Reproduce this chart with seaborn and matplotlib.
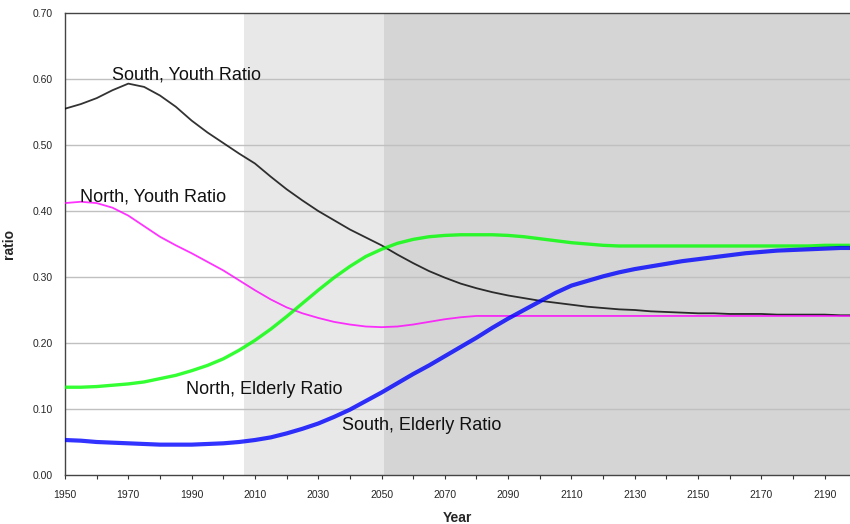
import numpy as np
import pandas as pd
import matplotlib
matplotlib.use("Agg")
import matplotlib.pyplot as plt
import seaborn as sns
from matplotlib.ticker import FixedLocator, FormatStrFormatter, MultipleLocator

years = list(range(1950, 2200, 5)) + [2198]

south_youth = [0.555, 0.562, 0.571, 0.583, 0.593, 0.588, 0.575, 0.558, 0.537, 0.519,
               0.503, 0.487, 0.472, 0.452, 0.433, 0.416, 0.400, 0.386, 0.372, 0.360,
               0.348, 0.334, 0.321, 0.309, 0.299, 0.290, 0.283, 0.277, 0.272, 0.268,
               0.264, 0.261, 0.258, 0.255, 0.253, 0.251, 0.250, 0.248, 0.247, 0.246,
               0.245, 0.245, 0.244, 0.244, 0.244, 0.243, 0.243, 0.243, 0.243, 0.242,
               0.242]
north_youth = [0.412, 0.414, 0.412, 0.405, 0.393, 0.377, 0.361, 0.348, 0.336, 0.323,
               0.310, 0.295, 0.280, 0.266, 0.254, 0.245, 0.238, 0.232, 0.228, 0.225,
               0.224, 0.225, 0.228, 0.232, 0.236, 0.239, 0.241, 0.241, 0.241, 0.241,
               0.241, 0.241, 0.241, 0.241, 0.241, 0.241, 0.241, 0.241, 0.241, 0.241,
               0.241, 0.241, 0.241, 0.241, 0.241, 0.241, 0.241, 0.241, 0.241, 0.241,
               0.241]
north_elderly = [0.133, 0.133, 0.134, 0.136, 0.138, 0.141, 0.146, 0.151, 0.158, 0.166,
                 0.176, 0.189, 0.204, 0.221, 0.240, 0.260, 0.280, 0.299, 0.316, 0.331,
                 0.342, 0.351, 0.357, 0.361, 0.363, 0.364, 0.364, 0.364, 0.363, 0.361,
                 0.358, 0.355, 0.352, 0.350, 0.348, 0.347, 0.347, 0.347, 0.347, 0.347,
                 0.347, 0.347, 0.347, 0.347, 0.347, 0.347, 0.347, 0.347, 0.348, 0.348,
                 0.348]
south_elderly = [0.053, 0.052, 0.050, 0.049, 0.048, 0.047, 0.046, 0.046, 0.046, 0.047,
                 0.048, 0.050, 0.053, 0.057, 0.063, 0.070, 0.078, 0.088, 0.099, 0.112,
                 0.125, 0.139, 0.153, 0.166, 0.180, 0.194, 0.208, 0.223, 0.237, 0.250,
                 0.263, 0.276, 0.287, 0.294, 0.301, 0.307, 0.312, 0.316, 0.320, 0.324,
                 0.327, 0.330, 0.333, 0.336, 0.338, 0.340, 0.341, 0.342, 0.343, 0.344,
                 0.344]

series_names = ["South, Youth Ratio", "North, Youth Ratio", "North, Elderly Ratio", "South, Elderly Ratio"]
series_values = [south_youth, north_youth, north_elderly, south_elderly]
series_colors = ["#000000", "#ff00ff", "#00ff00", "#0000ff"]
series_widths = [1.3, 1.3, 2.4, 3.0]

label_pos = {  # (year, value) anchor for inline labels
    "South, Youth Ratio": (1964.8, 0.600),
    "North, Youth Ratio": (1954.7, 0.414),
    "North, Elderly Ratio": (1988.2, 0.123),
    "South, Elderly Ratio": (2037.4, 0.068),
}

x_ticks = list(range(1950, 2200, 20))
shade_bounds = [1950, 2006.6, 2050.7, 2198]
shade_colors = ["#ffffff", "#e8e8e8", "#d5d5d5"]

for v in series_values:
    assert len(v) == len(years)

df = pd.DataFrame({
    "Year": np.tile(years, len(series_names)),
    "ratio": np.concatenate(series_values),
    "series": np.repeat(series_names, len(years)),
})

sns.set_style("white")
plt.rcParams["font.family"] = ["Liberation Sans", "DejaVu Sans"]

fig = plt.figure(figsize=(8.5, 5.24), dpi=100)
ax = fig.add_axes([65 / 850, 49 / 524, 785 / 850, 462 / 524])

for i in range(len(shade_colors)):
    ax.axvspan(shade_bounds[i], shade_bounds[i + 1], color=shade_colors[i], zorder=0, lw=0)

for y in np.arange(0.1, 0.7, 0.1):
    ax.axhline(y, color="#c0c0c0", lw=1.0, zorder=1)

for name, vals, col, lw in zip(series_names, series_values, series_colors, series_widths):
    sub = df[df["series"] == name]
    sns.lineplot(data=sub, x="Year", y="ratio", color=col, lw=lw, alpha=0.8, ax=ax, zorder=3,
                 legend=False)

for name, (x, y) in label_pos.items():
    ax.text(x, y, name, fontsize=13, color="#111111", zorder=4)

ax.set_xlim(1950, 2198)
ax.set_ylim(0, 0.70)
ax.xaxis.set_major_locator(FixedLocator(x_ticks))
ax.xaxis.set_minor_locator(FixedLocator([t + 10 for t in x_ticks]))
ax.yaxis.set_major_locator(MultipleLocator(0.1))
ax.yaxis.set_major_formatter(FormatStrFormatter("%.2f"))
ax.tick_params(axis="x", which="both", direction="out", length=3, width=0.8, color="#333333",
               labelsize=7.5, pad=8, bottom=True)
ax.tick_params(axis="y", which="both", length=0, labelsize=7.5, pad=9)

for side in ["left", "bottom", "top"]:
    ax.spines[side].set_color("#444444")
    ax.spines[side].set_linewidth(1.0)
ax.spines["right"].set_visible(False)

ax.set_xlabel("Year", fontsize=10, fontweight="bold", labelpad=8)
ax.set_ylabel("ratio", fontsize=10, fontweight="bold", labelpad=12)

fig.savefig("out.png", dpi=100)
